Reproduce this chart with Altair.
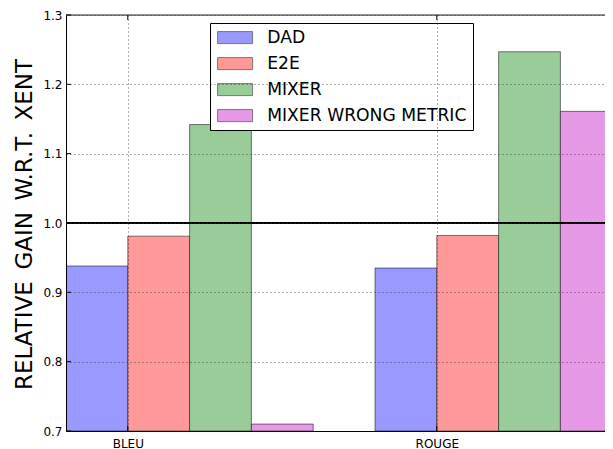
import altair as alt
import pandas as pd

categories = ["BLEU", "ROUGE"]
methods = ["DAD", "E2E", "MIXER", "MIXER WRONG METRIC"]
dad = [0.938, 0.935]
e2e = [0.981, 0.982]
mixer = [1.142, 1.247]
mixer_wrong = [0.710, 1.161]
colors = ["#9999ff", "#ff9999", "#99cc99", "#e699e6"]
y_ticks = [0.7, 0.8, 0.9, 1.0, 1.1, 1.2, 1.3]
bar_width = 0.2
reference_line = 1.0

series = [dad, e2e, mixer, mixer_wrong]
rows = []
for gi, cat in enumerate(categories):
    for mi, m in enumerate(methods):
        x0 = gi + mi * bar_width
        rows.append({"category": cat, "method": m, "value": series[mi][gi],
                     "x0": x0, "x1": x0 + bar_width})
df = pd.DataFrame(rows)

tick_pos = [gi + bar_width for gi in range(len(categories))]
label_expr = " : ".join(
    [f"datum.value < {tick_pos[i] + 0.5} ? '{categories[i]}'" for i in range(len(categories) - 1)]
    + [f"'{categories[-1]}'"]
)
ticks_x = pd.DataFrame({"x": tick_pos})
ticks_y = pd.DataFrame({"y": y_ticks})

FONT = "DejaVu Sans"
W = 539
H = 416
x_scale = alt.Scale(domain=[0, W / 309.0], nice=False, zero=False)
y_scale = alt.Scale(domain=[0.7, 1.3], nice=False, zero=False)

bars = alt.Chart(df).mark_bar(
    clip=True, stroke="black", strokeOpacity=0.5, strokeWidth=1, opacity=1
).encode(
    x=alt.X("x0:Q", scale=x_scale,
            axis=alt.Axis(values=tick_pos, labelExpr=label_expr, title=None,
                          grid=True, gridColor="#333", gridDash=[1, 3], gridWidth=0.8,
                          domain=True, domainColor="black", domainWidth=1,
                          ticks=False, labelFont=FONT, labelFontSize=12,
                          labelColor="black", labelPadding=7, zindex=1)),
    x2="x1:Q",
    y=alt.Y("value:Q", scale=y_scale,
            axis=alt.Axis(values=y_ticks, format=".1f",
                          title="RELATIVE\u2002GAIN\u2002W.R.T.\u2002XENT",
                          titleFont=FONT, titleFontSize=23, titleFontWeight="normal",
                          titleColor="black", titleAngle=-90, titleX=-42, titleY=209,
                          titleAlign="center", titleBaseline="middle",
                          grid=True, gridColor="#333", gridDash=[1, 3], gridWidth=0.8,
                          domain=True, domainColor="black", domainWidth=1,
                          ticks=False, labelFont=FONT, labelFontSize=12,
                          labelColor="black", labelPadding=4, zindex=1)),
    y2=alt.datum(0.7),
    color=alt.Color("method:N", scale=alt.Scale(domain=methods, range=colors),
                    legend=alt.Legend(title=None, orient="none", legendX=144, legendY=8,
                                      fillColor="white", strokeColor="black",
                                      padding=6, rowPadding=8,
                                      symbolType="M-2.1875,-0.75H2.1875V0.75H-2.1875Z",
                                      symbolSize=256, symbolOffset=10.5,
                                      symbolStrokeColor="#777", symbolStrokeWidth=1,
                                      symbolOpacity=1, labelOffset=23.5,
                                      labelFont=FONT, labelFontSize=17.2,
                                      labelColor="black", labelLimit=400)),
)

ref = alt.Chart(pd.DataFrame({"y": [reference_line]})).mark_rule(
    color="black", strokeWidth=2
).encode(y=alt.Y("y:Q", scale=y_scale))

top_spine = alt.Chart(pd.DataFrame({"y": [1.3]})).mark_rule(
    color="#222", strokeWidth=1
).encode(y=alt.Y("y:Q", scale=y_scale), x=alt.value(0), x2=alt.value(W))

top_ticks = alt.Chart(ticks_x).mark_rule(color="black", strokeWidth=1).encode(
    x=alt.X("x:Q", scale=x_scale), y=alt.value(0), y2=alt.value(5))
bottom_ticks = alt.Chart(ticks_x).mark_rule(color="black", strokeWidth=1).encode(
    x=alt.X("x:Q", scale=x_scale), y=alt.value(H), y2=alt.value(H - 5))
left_ticks = alt.Chart(ticks_y).mark_rule(color="black", strokeWidth=1).encode(
    y=alt.Y("y:Q", scale=y_scale), x=alt.value(0), x2=alt.value(5))

chart = alt.layer(bars, ref, top_spine, top_ticks, bottom_ticks, left_ticks).properties(
    width=W, height=H,
    autosize=alt.AutoSizeParams(type="none"),
    padding={"left": 58, "top": 7, "right": 0, "bottom": 18},
).configure_view(stroke=None).configure(background="white")

chart.save("out.html", embed_options={"renderer": "svg", "actions": False})
